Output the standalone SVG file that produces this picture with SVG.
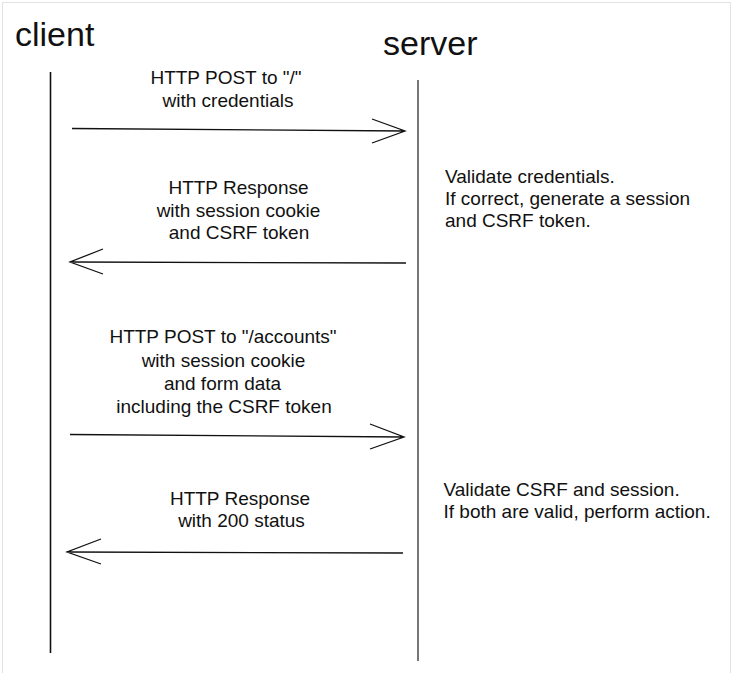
<svg xmlns="http://www.w3.org/2000/svg" width="733" height="673" viewBox="0 0 733 673">
<style>
.t{font-family:"Liberation Sans",Arial,Helvetica,sans-serif;font-size:19px;fill:#111}
.c{text-anchor:middle}
.h{font-family:"Liberation Sans",Arial,Helvetica,sans-serif;font-size:34px;fill:#111}
.ln{stroke:#111;stroke-width:1.3;fill:none}
.life{stroke-width:1.6;fill:none}
</style>
<rect x="2.5" y="2.5" width="728" height="672" fill="#fff" stroke="#e2e2e2" stroke-width="1"/>
<g id="client">
<text class="h" x="15" y="46">client</text>
<line class="life" x1="50.5" y1="72" x2="50.5" y2="653" stroke="#111"/>
</g>
<g id="server">
<text class="h" x="383" y="55">server</text>
<line class="life" x1="418" y1="80" x2="418" y2="661" stroke="#555"/>
</g>
<g id="connectors">
<path class="ln" d="M72 128.5 L405 131 M372 119 L405 131 L372 143"/>
<path class="ln" d="M406 263 L70 262 M103 249 L70 262 L103 274"/>
<path class="ln" d="M70 434.5 L404 437 M370 424 L404 437 L370 449"/>
<path class="ln" d="M403 553 L67 552 M101 539 L67 552 L101 564"/>
</g>
<g id="label1">
<text class="t c" x="226" y="84">HTTP POST to "/"</text>
<text class="t c" x="228" y="107">with credentials</text>
</g>
<g id="label2">
<text class="t c" x="238.5" y="194">HTTP Response</text>
<text class="t c" x="238.5" y="217">with session cookie</text>
<text class="t c" x="239" y="239">and CSRF token</text>
</g>
<g id="label3">
<text class="t c" x="223" y="343">HTTP POST to "/accounts"</text>
<text class="t c" x="223.5" y="366.5">with session cookie</text>
<text class="t c" x="222.5" y="390">and form data</text>
<text class="t c" x="224" y="413">including the CSRF token</text>
</g>
<g id="label4">
<text class="t c" x="240" y="505">HTTP Response</text>
<text class="t c" x="241.5" y="527">with 200 status</text>
</g>
<g id="note1">
<text class="t" x="445" y="183">Validate credentials.</text>
<text class="t" x="445" y="205">If correct, generate a session</text>
<text class="t" x="445" y="227">and CSRF token.</text>
</g>
<g id="note2">
<text class="t" x="443.5" y="496">Validate CSRF and session.</text>
<text class="t" x="443.5" y="518">If both are valid, perform action.</text>
</g>
</svg>
